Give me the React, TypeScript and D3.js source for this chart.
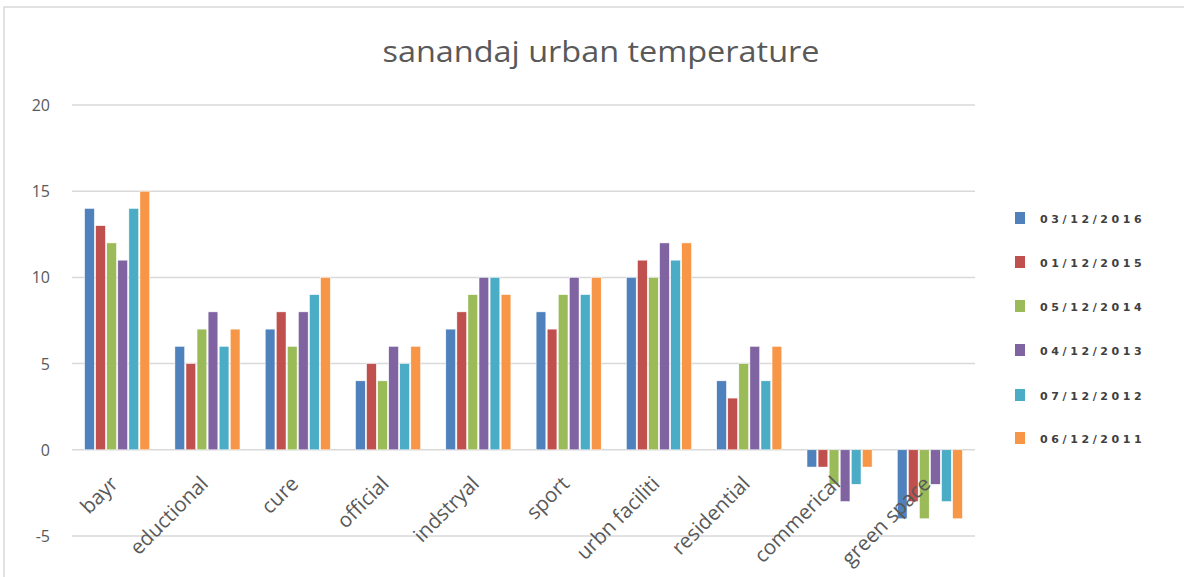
import React from "react";
import * as d3 from "d3";

const categories = ["bayr", "eductional", "cure", "official", "indstryal", "sport", "urbn faciliti", "residential", "commerical", "green space"];
const seriesNames = ["03/12/2016", "01/12/2015", "05/12/2014", "04/12/2013", "07/12/2012", "06/12/2011"];
const s2016 = [14, 6, 7, 4, 7, 8, 10, 4, -1, -4];
const s2015 = [13, 5, 8, 5, 8, 7, 11, 3, -1, -3];
const s2014 = [12, 7, 6, 4, 9, 9, 10, 5, -2, -4];
const s2013 = [11, 8, 8, 6, 10, 10, 12, 6, -3, -2];
const s2012 = [14, 6, 9, 5, 10, 9, 11, 4, -2, -3];
const s2011 = [15, 7, 10, 6, 9, 10, 12, 6, -1, -4];
const yTicks = [-5, 0, 5, 10, 15, 20];
const colors = ["#4F81BD", "#C0504D", "#9BBB59", "#8064A2", "#4BACC6", "#F79646"];

const seriesValues = [s2016, s2015, s2014, s2013, s2012, s2011];

export default function App() {
  const W = 1184, H = 577;
  const left = 72, right = 975;
  const y = d3.scaleLinear().domain([-5, 20]).range([536, 105]);
  const x0 = d3.scaleBand<string>().domain(categories).range([left, right]).paddingInner(0.25).paddingOuter(0.125);
  const x1 = d3.scaleBand<string>().domain(seriesNames).range([0, x0.bandwidth()]).padding(0.12);
  const legendY = [218, 262, 306, 350, 395, 438];
  return (
    <svg width={W} height={H} style={{ position: "absolute", left: 0, top: 0, background: "#fff" }}>
      <rect x={4} y={7} width={W} height={H} fill="#fff" stroke="#d9d9d9" strokeWidth={1.5} />
      <text x={601} y={62} textAnchor="middle" textLength={437} lengthAdjust="spacingAndGlyphs" fontFamily="'Open Sans', sans-serif" fontSize={30} fill="#595959">sanandaj urban temperature</text>
      {yTicks.map((t) => (
        <g key={t}>
          <line x1={left} x2={right} y1={y(t)} y2={y(t)} stroke="#d9d9d9" strokeWidth={1.5} />
          <text x={50} y={y(t) + 6} textAnchor="end" fontFamily="'Open Sans', sans-serif" fontSize={16} fill="#595959">{t}</text>
        </g>
      ))}
      {categories.map((c, i) => (
        <g key={c} transform={`translate(${x0(c)},0)`}>
          {seriesNames.map((s, j) => {
            const v = seriesValues[j][i];
            return (
              <rect key={s} x={x1(s)} width={x1.bandwidth()} y={y(Math.max(0, v))} height={Math.abs(y(v) - y(0))} fill={colors[j]} stroke="#fff" strokeWidth={0.5} />
            );
          })}
        </g>
      ))}
      {categories.map((c) => {
        const cx = (x0(c) ?? 0) + x0.bandwidth() / 2 + 2;
        return (
          <text key={c} transform={`translate(${cx},485) rotate(-45)`} textAnchor="end" fontFamily="'Open Sans', sans-serif" fontSize={20.5} fill="#595959">{c}</text>
        );
      })}
      {seriesNames.map((s, j) => (
        <g key={s}>
          <rect x={1015} y={legendY[j] - 6} width={10} height={12} fill={colors[j]} />
          <text x={1040} y={legendY[j] + 5} fontFamily="'DejaVu Sans', sans-serif" fontWeight="bold" fontSize={11} letterSpacing={3.6} fill="#404040">{s}</text>
        </g>
      ))}
    </svg>
  );
}
